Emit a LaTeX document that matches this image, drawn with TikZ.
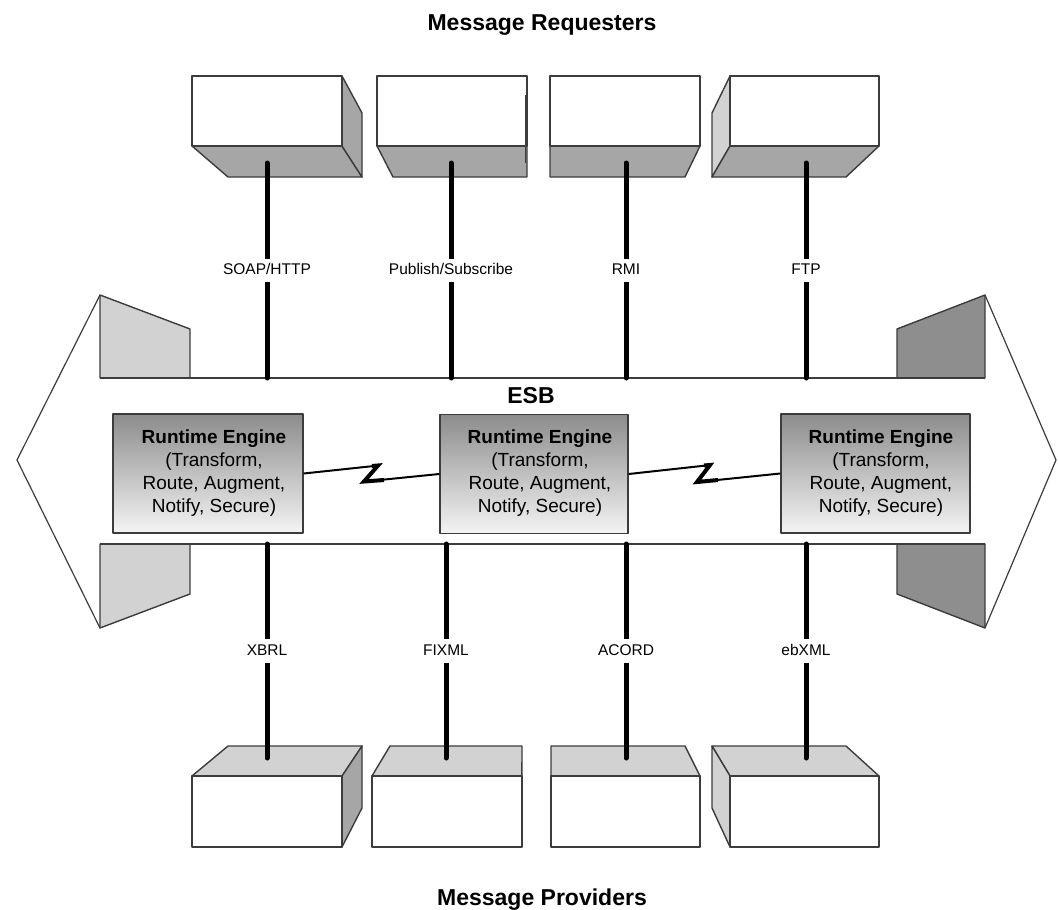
\documentclass[tikz,border=0pt]{standalone}
\usepackage{fontspec}
\setmainfont{Liberation Sans}
\definecolor{edge}{HTML}{3C3C3C}
\definecolor{lightface}{HTML}{D2D2D2}
\definecolor{midface}{HTML}{A6A6A6}
\definecolor{darkface}{HTML}{8E8E8E}
\definecolor{gradtop}{HTML}{8C8C8C}
\definecolor{gradbot}{HTML}{F4F4F4}
\begin{document}
\begin{tikzpicture}[x=1pt,y=-1pt, line join=round,
  face/.style={draw=edge, line width=1.4pt},
  front/.style={draw=edge, line width=1.4pt, fill=white, minimum width=150pt, minimum height=70pt, inner sep=0pt, outer sep=0pt},
  conn/.style={line width=5pt, black, line cap=round},
  lbl/.style={fill=white, inner xsep=3pt, inner ysep=5pt, font=\fontsize{15.5}{17}\selectfont, text height=11pt, text depth=2.5pt},
  engine/.style={draw=edge, line width=1.4pt, top color=gradtop, bottom color=gradbot, minimum height=119pt, inner sep=0pt},
  engtext/.style={align=center, font=\fontsize{19}{23}\selectfont},
  title/.style={font=\bfseries\fontsize{23}{26}\selectfont},
  bolt/.style={line width=2pt, black},
  arrowline/.style={draw=edge, line width=1.2pt}]
\useasboundingbox (0,0) rectangle (1058,910);

% titles
\node[title, anchor=base] (req) at (542,30) {Message Requesters};
\node[title, anchor=base] (prov) at (542,905) {Message Providers};

% ESB big double arrow
\draw[arrowline] (100,295) -- (17,460) -- (100,628);
\draw[arrowline] (985,295) -- (1056,460) -- (985,628);
\filldraw[face, fill=lightface] (100,295) -- (190,329) -- (190,378) -- (100,378) -- cycle;
\filldraw[face, fill=lightface] (100,544) -- (190,544) -- (190,594) -- (100,628) -- cycle;
\filldraw[face, fill=darkface] (985,295) -- (897,329) -- (897,378) -- (985,378) -- cycle;
\filldraw[face, fill=darkface] (985,544) -- (897,544) -- (897,594) -- (985,628) -- cycle;
\draw[face] (100,378) -- (985,378);
\draw[face] (100,544) -- (985,544);
\node[font=\bfseries\fontsize{23}{26}\selectfont, anchor=base] (esb) at (531,403) {ESB};

% top boxes (requesters)
\filldraw[face, fill=midface] (192,146) -- (342,146) -- (362,177) -- (228,177) -- cycle;
\filldraw[face, fill=midface] (342,76) -- (362,113) -- (362,177) -- (342,146) -- cycle;
\filldraw[face, fill=midface] (377,146) -- (527,146) -- (527,177) -- (393,177) -- cycle;
\filldraw[face, fill=midface] (550,146) -- (700,146) -- (685,177) -- (550,177) -- cycle;
\filldraw[face, fill=lightface] (730,76) -- (712,113) -- (712,177) -- (730,146) -- cycle;
\filldraw[face, fill=midface] (730,146) -- (879,146) -- (846,177) -- (712,177) -- cycle;
\node[front] (t1) at (267,111) {};
\node[front] (t2) at (452,111) {};
\node[front] (t3) at (625,111) {};
\node[front, minimum width=149pt] (t4) at (804.5,111) {};
\draw[edge, line width=1pt] (525,95) -- (525,163);

% bottom boxes (providers)
\filldraw[face, fill=lightface] (192,776) -- (228,746) -- (362,746) -- (342,776) -- cycle;
\filldraw[face, fill=midface] (342,776) -- (362,746) -- (362,808) -- (342,847) -- cycle;
\filldraw[face, fill=lightface] (372,776) -- (390,746) -- (522,746) -- (522,776) -- cycle;
\filldraw[face, fill=lightface] (551,776) -- (551,746) -- (685,746) -- (700,776) -- cycle;
\filldraw[face, fill=lightface] (730,776) -- (712,746) -- (846,746) -- (879,776) -- cycle;
\filldraw[face, fill=lightface] (712,746) -- (730,776) -- (730,847) -- (712,808) -- cycle;
\node[front, minimum height=71pt] (b1) at (267,811.5) {};
\node[front, minimum height=71pt] (b2) at (447,811.5) {};
\node[front, minimum height=71pt, minimum width=149pt] (b3) at (625.5,811.5) {};
\node[front, minimum height=71pt, minimum width=149pt] (b4) at (804.5,811.5) {};
\draw[edge, line width=1pt] (521,762) -- (521,825);

% connector end points
\coordinate (t1c) at (267,163); \coordinate (t1e) at (267,378);
\coordinate (t2c) at (451,163); \coordinate (t2e) at (451,378);
\coordinate (t3c) at (626,163); \coordinate (t3e) at (626,378);
\coordinate (t4c) at (806,163); \coordinate (t4e) at (806,378);
\coordinate (b1c) at (267,758); \coordinate (b1e) at (267,544);
\coordinate (b2c) at (446,758); \coordinate (b2e) at (446,544);
\coordinate (b3c) at (626,758); \coordinate (b3e) at (626,544);
\coordinate (b4c) at (806,758); \coordinate (b4e) at (806,544);

\draw[conn] (t1c) -- node[lbl] (l1) {SOAP/HTTP} (t1e);
\draw[conn] (t2c) -- node[lbl] (l2) {Publish/Subscribe} (t2e);
\draw[conn] (t3c) -- node[lbl] (l3) {RMI} (t3e);
\draw[conn] (t4c) -- node[lbl] (l4) {FTP} (t4e);
\draw[conn] (b1c) -- node[lbl] (l5) {XBRL} (b1e);
\draw[conn] (b2c) -- node[lbl] (l6) {FIXML} (b2e);
\draw[conn] (b3c) -- node[lbl] (l7) {ACORD} (b3e);
\draw[conn] (b4c) -- node[lbl] (l8) {ebXML} (b4e);

% runtime engines
\node[engine, minimum width=190pt] (e1) at (208,473.5) {};
\node[engine, minimum width=188pt] (e2) at (534,474) {};
\node[engine, minimum width=189pt] (e3) at (875.5,473.5) {};
\node[engtext] (e1t) at (214,473) {\textbf{Runtime Engine}\\(Transform,\\Route, Augment,\\Notify, Secure)};
\node[engtext] (e2t) at (540,473) {\textbf{Runtime Engine}\\(Transform,\\Route, Augment,\\Notify, Secure)};
\node[engtext] (e3t) at (881,473) {\textbf{Runtime Engine}\\(Transform,\\Route, Augment,\\Notify, Secure)};

% lightning links
\draw[bolt] (e1.east) -- ++(75,-8) -- ++(-14,16) -- (e2.west);
\draw[line width=4pt, black, line join=miter] (372,466) -- (378,465.5) -- (364,481.5) -- (384,480);
\draw[bolt] (e2.east) -- ++(82,-9) -- ++(-13,17) -- (e3.west);
\draw[line width=4pt, black, line join=miter] (704,465.5) -- (710,465) -- (697,482) -- (718,480);
\end{tikzpicture}
\end{document}
